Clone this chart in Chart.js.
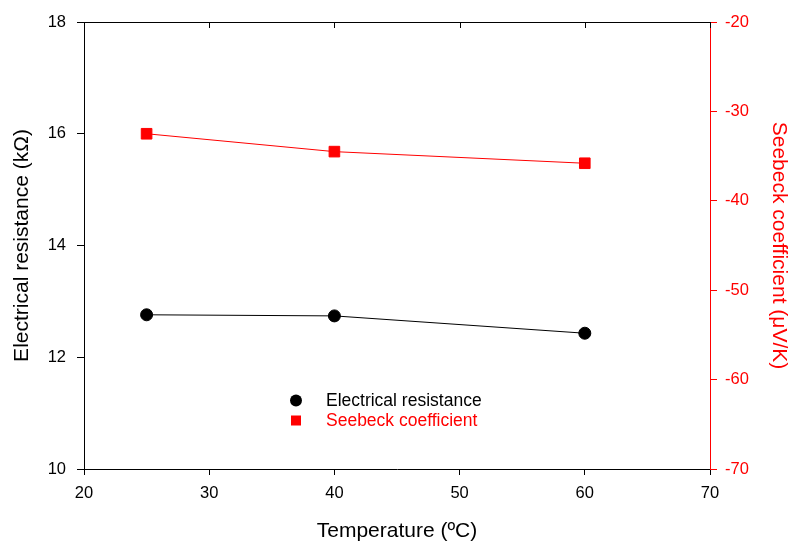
<!DOCTYPE html>
<html>
<head>
<meta charset="utf-8">
<script src="https://cdn.jsdelivr.net/npm/chart.js@4.4.1/dist/chart.umd.min.js"></script>
<style>
  html, body { margin: 0; padding: 0; background: #ffffff; }
  #wrap { width: 792px; height: 545px; }
</style>
</head>
<body>
<div id="wrap"><canvas id="chart" width="792" height="545"></canvas></div>
<script>
// Measurements at each temperature
const temperatures = [25, 40, 60];                 // ºC
const resistance = [12.76, 12.74, 12.43];          // kΩ
const seebeck = [-32.5, -34.5, -35.8];             // μV/K

const xTicks = [20, 30, 40, 50, 60, 70];
const leftTicks = [10, 12, 14, 16, 18];
const rightTicks = [-70, -60, -50, -40, -30, -20];

const FONT = "'Liberation Sans', Arial, sans-serif";
const RED = '#ff0000';
const TICK_SIZE = 16.5;
const TITLE_SIZE = 21;

// Inward tick marks along the top border of the frame, taken from the x scale
const topTicks = {
  id: 'topTicks',
  afterDraw(chart) {
    const { ctx, chartArea, scales } = chart;
    ctx.save();
    ctx.strokeStyle = '#000';
    ctx.lineWidth = 1;
    ctx.beginPath();
    ctx.moveTo(chartArea.left, chartArea.top + 0.5);
    ctx.lineTo(chartArea.right, chartArea.top + 0.5);
    scales.x.ticks.forEach(t => {
      const px = Math.round(scales.x.getPixelForValue(t.value)) + 0.5;
      ctx.moveTo(px, chartArea.top);
      ctx.lineTo(px, chartArea.top + 6);
    });
    ctx.stroke();
    ctx.restore();
  }
};

// Legend drawn inside the plot area
const innerLegend = {
  id: 'innerLegend',
  afterDraw(chart) {
    const { ctx, chartArea } = chart;
    const x0 = chartArea.left + 212;
    const y0 = chartArea.top + 378.5;
    ctx.save();
    ctx.font = "17.5px " + FONT;
    ctx.textBaseline = 'middle';
    chart.data.datasets.forEach((ds, i) => {
      const y = y0 + i * 20;
      ctx.fillStyle = ds.backgroundColor;
      if (ds.pointStyle === 'circle') {
        ctx.beginPath();
        ctx.arc(x0, y, 6, 0, Math.PI * 2);
        ctx.fill();
      } else {
        ctx.fillRect(x0 - 5, y - 5, 10, 10);
      }
      ctx.fillStyle = ds.legendTextColor;
      ctx.fillText(ds.label, x0 + 30, y + 1);
    });
    ctx.restore();
  }
};

new Chart(document.getElementById('chart'), {
  type: 'line',
  data: {
    datasets: [
      {
        label: 'Electrical resistance',
        data: temperatures.map((t, i) => ({ x: t, y: resistance[i] })),
        yAxisID: 'y',
        borderColor: '#000000',
        backgroundColor: '#000000',
        legendTextColor: '#000000',
        borderWidth: 1,
        pointStyle: 'circle',
        pointRadius: 6,
        pointHoverRadius: 6,
        tension: 0
      },
      {
        label: 'Seebeck coefficient',
        data: temperatures.map((t, i) => ({ x: t, y: seebeck[i] })),
        yAxisID: 'y1',
        borderColor: RED,
        backgroundColor: RED,
        legendTextColor: RED,
        borderWidth: 1,
        pointStyle: 'rect',
        pointRadius: 7.5,
        pointHoverRadius: 7.5,
        tension: 0
      }
    ]
  },
  options: {
    responsive: false,
    animation: false,
    events: [],
    layout: { padding: { top: 22, left: 0, right: 0, bottom: 0 } },
    plugins: {
      legend: { display: false },
      tooltip: { enabled: false }
    },
    scales: {
      x: {
        type: 'linear',
        position: 'bottom',
        min: 20, max: 70,
        afterBuildTicks(scale) { scale.ticks = xTicks.map(v => ({ value: v })); },
        afterFit(scale) { scale.height = 76; },
        border: { display: true, color: '#000', width: 1 },
        grid: { drawOnChartArea: false, drawTicks: true, tickLength: 6, color: '#000', lineWidth: 1 },
        ticks: { color: '#000', font: { family: FONT, size: TICK_SIZE }, padding: 9, maxRotation: 0 },
        title: {
          display: true, text: 'Temperature (ºC)', color: '#000',
          font: { family: FONT, size: TITLE_SIZE }, padding: { top: 4, bottom: 1 }
        }
      },
      y: {
        type: 'linear',
        position: 'left',
        min: 10, max: 18,
        afterBuildTicks(scale) { scale.ticks = leftTicks.map(v => ({ value: v })); },
        afterFit(scale) { scale.width = 84; },
        border: { display: true, color: '#000', width: 1 },
        grid: { drawOnChartArea: false, drawTicks: true, tickLength: 7, color: '#000', lineWidth: 1 },
        ticks: { color: '#000', font: { family: FONT, size: TICK_SIZE }, padding: 11 },
        title: {
          display: true, text: 'Electrical resistance (kΩ)', color: '#000',
          font: { family: FONT, size: TITLE_SIZE }, padding: { top: 10, bottom: 4 }
        }
      },
      y1: {
        type: 'linear',
        position: 'right',
        min: -70, max: -20,
        afterBuildTicks(scale) { scale.ticks = rightTicks.map(v => ({ value: v })); },
        afterFit(scale) { scale.width = 82; },
        border: { display: true, color: RED, width: 1 },
        grid: { drawOnChartArea: false, drawTicks: true, tickLength: 7, color: RED, lineWidth: 1 },
        ticks: { color: RED, font: { family: FONT, size: TICK_SIZE }, padding: 8 },
        title: {
          display: true, text: 'Seebeck coefficient (μV/K)', color: RED,
          font: { family: FONT, size: TITLE_SIZE }, padding: { top: 0.5, bottom: 4 }
        }
      }
    }
  },
  plugins: [topTicks, innerLegend]
});
</script>
</body>
</html>
